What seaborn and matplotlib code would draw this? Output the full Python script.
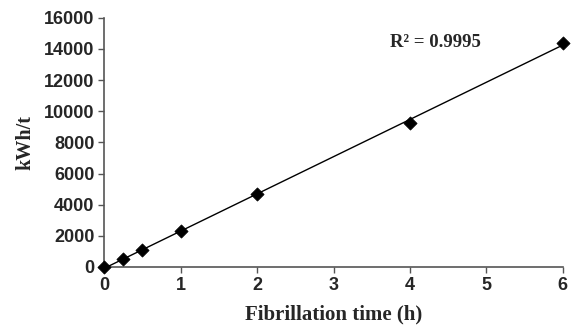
import numpy as np
import pandas as pd
import matplotlib
matplotlib.use("Agg")
import matplotlib.pyplot as plt
import seaborn as sns

# data
time_h = [0, 0.25, 0.5, 1, 2, 4, 6]
kwh_t = [0, 500, 1100, 2330, 4690, 9230, 14400]
x_ticks = [0, 1, 2, 3, 4, 5, 6]
y_ticks = [0, 2000, 4000, 6000, 8000, 10000, 12000, 14000, 16000]
r2_label = "R² = 0.9995"

df = pd.DataFrame({"t": time_h, "e": kwh_t})

sns.set_theme(style="ticks")
plt.rcParams["font.family"] = ["Liberation Sans", "DejaVu Sans"]
plt.rcParams["font.weight"] = "bold"

fig = plt.figure(figsize=(5.76, 3.28), dpi=100)
ax = fig.add_axes([0.181, 0.186, 0.796, 0.760])

# trend line
sns.regplot(ax=ax, data=df, x="t", y="e", ci=None, scatter=False, truncate=True,
            line_kws=dict(color="black", lw=1.0))
# points
sns.scatterplot(ax=ax, data=df, x="t", y="e", marker="D", s=45, color="black",
                edgecolor="black", zorder=5, clip_on=False)

ax.set_xlim(0, 6)
ax.set_ylim(0, 16000)
ax.set_xticks(x_ticks, labels=[str(v) for v in x_ticks])
ax.set_yticks(y_ticks, labels=[str(v) for v in y_ticks])
ax.tick_params(labelsize=13, length=4, width=1, color="#555555", pad=3)

serif = ["Liberation Serif", "DejaVu Serif"]
ax.set_xlabel("Fibrillation time (h)", fontsize=15, fontweight="bold", family=serif, labelpad=8)
ax.set_ylabel("kWh/t", fontsize=14.5, fontweight="bold", family=serif, labelpad=6)
ax.text(4.33, 14400, r2_label, ha="center", va="center", fontsize=13.5,
        fontweight="bold", family=serif)

sns.despine(ax=ax)
for sp in ("left", "bottom"):
    ax.spines[sp].set_color("#555555")
    ax.spines[sp].set_linewidth(1.2)

fig.savefig("out.png", dpi=100)
